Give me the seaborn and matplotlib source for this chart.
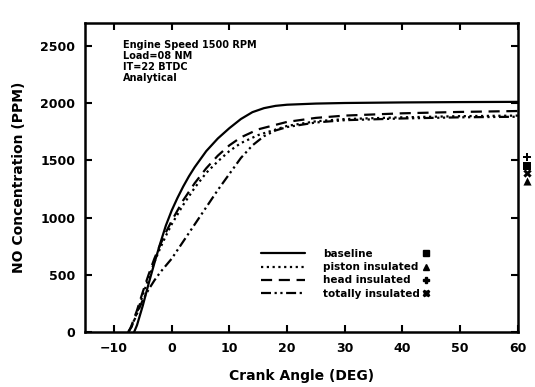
import matplotlib
matplotlib.use("Agg")
import matplotlib.pyplot as plt
from matplotlib.lines import Line2D
import seaborn as sns
import pandas as pd

# Crank angle samples (deg) and NO concentration (ppm) for each case
baseline_x = [-6.5, -6, -5, -4, -3, -2, -1, 0, 1, 2, 3, 4, 5, 6, 8, 10, 12, 14, 16, 18, 20, 25, 30, 40, 50, 60]
baseline_y = [0, 60, 230, 420, 600, 770, 930, 1060, 1170, 1270, 1360, 1440, 1510, 1580, 1690, 1780, 1860, 1920, 1955, 1975, 1985, 1995, 2000, 2005, 2008, 2010]

piston_x = [-7.5, -7, -6, -5, -4, -3, -2, -1, 0, 2, 4, 6, 8, 10, 12, 15, 20, 25, 30, 40, 50, 60]
piston_y = [0, 40, 170, 320, 470, 610, 730, 840, 940, 1110, 1260, 1390, 1490, 1580, 1650, 1720, 1800, 1840, 1860, 1875, 1885, 1890]

head_x = [-7.5, -7, -6, -5, -4, -3, -2, -1, 0, 2, 4, 6, 8, 10, 12, 15, 20, 25, 30, 40, 50, 60]
head_y = [0, 50, 190, 350, 500, 640, 760, 870, 970, 1150, 1300, 1430, 1540, 1630, 1700, 1770, 1835, 1870, 1890, 1910, 1922, 1930]

total_x = [-7.5, -7, -6, -5, -4, -3, -2, -1, 0, 2, 4, 6, 8, 10, 12, 14, 16, 18, 20, 25, 30, 40, 50, 60]
total_y = [0, 40, 160, 280, 370, 450, 520, 580, 640, 790, 940, 1090, 1240, 1380, 1520, 1630, 1710, 1760, 1790, 1830, 1850, 1865, 1875, 1880]

# Measured end values shown beside the right axis
measured_labels = ["baseline", "piston insulated", "head insulated", "totally insulated"]
measured_ppm = [1450, 1320, 1530, 1390]

series_names = ["baseline", "piston insulated", "head insulated", "totally insulated"]
series_x = [baseline_x, piston_x, head_x, total_x]
series_y = [baseline_y, piston_y, head_y, total_y]

x_ticks = [-10, 0, 10, 20, 30, 40, 50, 60]
y_ticks = [0, 500, 1000, 1500, 2000, 2500]

dash_styles = ["-", (0, (1, 1.6)), (0, (5, 3)), (0, (4.5, 1.6, 1, 1.6, 1, 1.6))]
marker_styles = ["s", "^", "P", "X"]
marker_sizes = [28, 34, 40, 36]

sns.set_style("ticks")
plt.rcParams["font.family"] = ["DejaVu Sans"]
plt.rcParams["font.weight"] = "bold"
for key in ["text.color", "axes.labelcolor", "xtick.color", "ytick.color", "axes.edgecolor"]:
    plt.rcParams[key] = "black"

fig = plt.figure(figsize=(5.35, 3.87), dpi=100)
ax = fig.add_axes([0.159, 0.142, 0.809, 0.799])

lines = []
for name, xs, ys, ls in zip(series_names, series_x, series_y, dash_styles):
    df = pd.DataFrame({"angle": xs, "ppm": ys})
    sns.lineplot(data=df, x="angle", y="ppm", ax=ax, color="black",
                 linewidth=1.6, linestyle=ls, estimator=None, sort=False)
    lines.append(Line2D([], [], color="black", linewidth=1.6, linestyle=ls))

# measured values drawn just outside the right frame
mdf = pd.DataFrame({"angle": [61.6] * 4, "ppm": measured_ppm, "case": measured_labels})
for (_, row), mk, ms in zip(mdf.iterrows(), marker_styles, marker_sizes):
    ax.scatter(row["angle"], row["ppm"], marker=mk, s=ms, color="black",
               linewidths=0, clip_on=False, zorder=5)

ax.set_xlim(-15, 60)
ax.set_ylim(0, 2700)
ax.set_xticks(x_ticks)
ax.set_yticks(y_ticks)
ax.tick_params(direction="in", length=5, width=1.5, top=True, right=True,
               labelsize=9, pad=7, colors="black")
for lab in ax.get_xticklabels() + ax.get_yticklabels():
    lab.set_fontweight("bold")
for sp in ax.spines.values():
    sp.set_linewidth(1.8)
    sp.set_color("black")
    sp.set_visible(True)

ax.set_xlabel("Crank Angle (DEG)", fontsize=10, fontweight="bold", labelpad=10)
ax.set_ylabel("NO Concentration (PPM)", fontsize=10, fontweight="bold", labelpad=10)

ax.text(0.088, 0.945,
        "Engine Speed 1500 RPM\nLoad=08 NM\nIT=22 BTDC\nAnalytical",
        transform=ax.transAxes, fontsize=7, fontweight="bold",
        va="top", ha="left", linespacing=1.15)

marker_handles = [Line2D([], [], linestyle="none", marker=mk, color="black",
                         markersize=5) for mk in marker_styles]
leg = ax.legend(lines + marker_handles, series_names + [""] * 4,
                ncol=2, loc="upper left", bbox_to_anchor=(0.395, 0.285),
                frameon=False, fontsize=7.5, handlelength=4.2, handletextpad=1.7,
                labelspacing=0.3, columnspacing=-1.5, borderpad=0)
for t in leg.get_texts():
    t.set_fontweight("bold")

fig.savefig("out.png", dpi=100)
